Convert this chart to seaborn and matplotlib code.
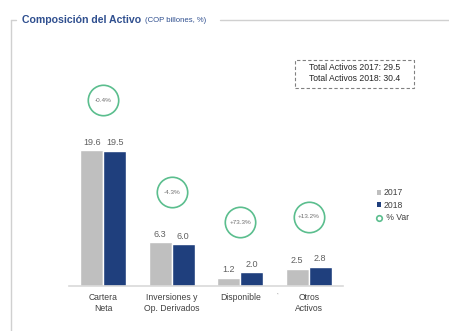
import matplotlib
matplotlib.use("Agg")
import matplotlib.pyplot as plt
import seaborn as sns
import pandas as pd
from matplotlib.lines import Line2D
from matplotlib.patches import Patch, FancyBboxPatch

categories = ["Cartera\nNeta", "Inversiones y\nOp. Derivados", "Disponible", "Otros\nActivos"]
values_2017 = [19.6, 6.3, 1.2, 2.5]
values_2018 = [19.5, 6.0, 2.0, 2.8]
var_labels = ["-0.4%", "-4.3%", "+73.3%", "+13.2%"]
years = ["2017", "2018"]
total_2017 = 29.5
total_2018 = 30.4

GRAY = "#BFBFBF"
NAVY = "#1F3F7D"
GREEN = "#5BBE8E"
TITLE = "#2F4F8F"

sns.set_theme(style="white")
plt.rcParams["font.family"] = ["Liberation Sans", "DejaVu Sans"]

df = pd.DataFrame({
    "cat": categories * 2,
    "year": [years[0]] * 4 + [years[1]] * 4,
    "val": values_2017 + values_2018,
})

fig = plt.figure(figsize=(4.49, 3.31), dpi=100)
ax = fig.add_axes([69 / 449, 45 / 331, 274 / 449, 208 / 331])
sns.barplot(data=df, x="cat", y="val", hue="year", palette=[GRAY, NAVY],
            width=0.67, gap=0, ax=ax, legend=False, saturation=1)
ax.set_xlim(-0.5, 3.5)
ax.set_ylim(0, 30)
for c in ax.containers:
    ax.bar_label(c, fmt="%.1f", padding=2.5, fontsize=6.5, color="#606060")

for s in ["top", "right", "left"]:
    ax.spines[s].set_visible(False)
ax.spines["bottom"].set_color("#D9D9D9")
ax.spines["bottom"].set_linewidth(1.2)
ax.set_yticks([])
ax.set_xlabel("")
ax.set_ylabel("")
ax.tick_params(axis="x", length=0, labelsize=6.2, labelcolor="#404040", pad=5)
for lab in ax.get_xticklabels():
    lab.set_linespacing(1.25)
ax.text(2.55, -1.2, "*", fontsize=3, color="#888888", ha="center", va="center")

# % Var circles
for i, lab in enumerate(var_labels):
    yc = max(values_2017[i], values_2018[i]) + 7.2
    ax.scatter([i], [yc], s=480, facecolor="white", edgecolor=GREEN,
               linewidth=1.2, zorder=5, clip_on=False)
    ax.text(i, yc, lab, fontsize=4.6, color="#707070", ha="center", va="center", zorder=6)

# Totals box
box = FancyBboxPatch((295 / 449, 1 - 88 / 331), 119 / 449, 28 / 331,
                     boxstyle="square,pad=0", transform=fig.transFigure,
                     facecolor="white", edgecolor="#808080", linestyle=(0, (3, 2)),
                     linewidth=0.8)
fig.add_artist(box)
fig.text(354.5 / 449, 1 - 67 / 331, f"Total Activos 2017: {total_2017}", fontsize=6.2,
         color="#262626", ha="center", va="center")
fig.text(354.5 / 449, 1 - 78.5 / 331, f"Total Activos 2018: {total_2018}", fontsize=6.2,
         color="#262626", ha="center", va="center")

# Legend
handles = [Patch(facecolor=GRAY, edgecolor="none", label=years[0]),
           Patch(facecolor=NAVY, edgecolor="none", label=years[1]),
           Line2D([], [], marker="o", linestyle="none", markerfacecolor="white",
                  markeredgecolor=GREEN, markeredgewidth=1.2, markersize=4, label=" % Var")]
fig.legend(handles=handles, loc="upper left", bbox_to_anchor=(373 / 449, 1 - 184 / 331),
           frameon=False, fontsize=6.2, handlelength=0.45, handleheight=0.45,
           handletextpad=0.3, labelspacing=0.4, labelcolor="#404040", borderpad=0)

# Frame and title
LC = "#D0D0D0"
fig.add_artist(Line2D([11 / 449, 11 / 449], [1 - 20 / 331, 0], transform=fig.transFigure,
                      color=LC, linewidth=1))
fig.add_artist(Line2D([11 / 449, 16 / 449], [1 - 20 / 331, 1 - 20 / 331],
                      transform=fig.transFigure, color=LC, linewidth=1))
fig.add_artist(Line2D([220 / 449, 1], [1 - 20 / 331, 1 - 20 / 331],
                      transform=fig.transFigure, color=LC, linewidth=1))
fig.text(22 / 449, 1 - 20 / 331, "Composición del Activo", fontsize=7.6,
         fontweight="bold", color=TITLE, ha="left", va="center")
fig.text(145 / 449, 1 - 20.5 / 331, "(COP billones, %)", fontsize=5.6,
         color=TITLE, ha="left", va="center")

fig.savefig("out.png", dpi=100)
